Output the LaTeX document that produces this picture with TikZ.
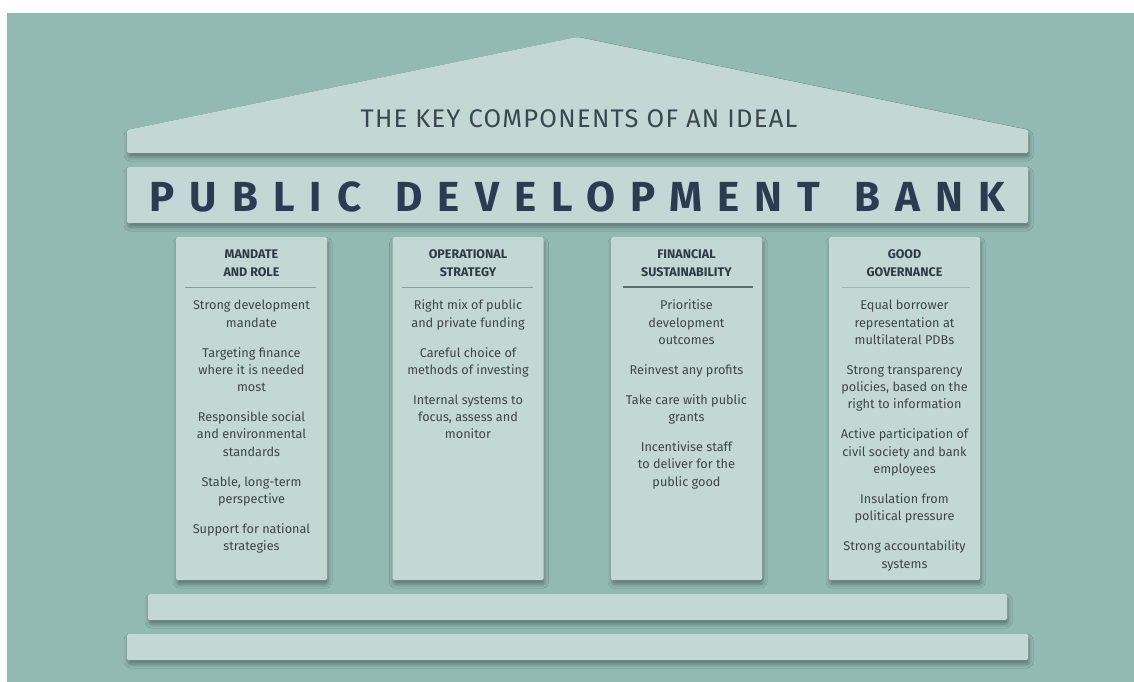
\documentclass[tikz,border=0pt]{standalone}
\usepackage{fontspec}
\setmainfont{Fira Sans}
\usetikzlibrary{shadows.blur}

\definecolor{wall}{HTML}{93B9B3}
\definecolor{stone}{HTML}{C3D8D5}
\definecolor{ink}{HTML}{3C4547}
\definecolor{headink}{HTML}{2E3A44}
\definecolor{navy}{HTML}{2B3C52}
\definecolor{titleink}{HTML}{3A4650}
\definecolor{rulegray}{HTML}{8A9B9B}
\definecolor{ruledark}{HTML}{5F6D6F}

\tikzset{
  stoneshadow/.style={blur shadow={shadow xshift=1pt, shadow yshift=-4pt,
      shadow blur radius=4pt, shadow opacity=35}},
  stoneblock/.style={fill=stone, draw=none, rounded corners=1.5pt, inner sep=0pt,
      stoneshadow},
  colhead/.style={font=\fontsize{12.5}{18}\selectfont\bfseries, text=headink,
      align=center, anchor=north, inner sep=0pt},
  colbody/.style={font=\fontsize{12.7}{17.3}\selectfont, text=ink,
      align=center, anchor=north, inner sep=0pt},
  headrule/.style={draw=rulegray, line width=0.8pt},
}

\begin{document}
\begin{tikzpicture}[x=1pt,y=-1pt]
\useasboundingbox (0,0) rectangle (1134,682);
\fill[white] (0,0) rectangle (1134,682);
\fill[wall] (7,13) rectangle (1134,682);

% pediment
\path[fill=stone, rounded corners=1.5pt, stoneshadow]
  (127,153) -- (127,130) -- (577,37) -- (1028,130) -- (1028,153) -- cycle;
\node[font=\fontsize{25.5}{30}\selectfont\addfontfeature{LetterSpace=5}, text=titleink,
      anchor=base, inner sep=0pt]
  (subtitle) at (579,128) {THE KEY COMPONENTS OF AN IDEAL};

% entablature
\node[stoneblock, minimum width=901, minimum height=56] (band) at (577.5,195) {};
\node[font=\fontsize{42}{48}\selectfont\bfseries\addfontfeature{LetterSpace=36},
      text=navy, anchor=base, inner sep=0pt]
  (title) at (577,211) {PUBLIC\hspace{9pt} DEVELOPMENT\hspace{9pt} BANK};

% columns
\node[stoneblock, minimum width=151, minimum height=343, anchor=north] (col1) at (251.5,237) {};
\node[stoneblock, minimum width=151, minimum height=343, anchor=north] (col2) at (468,237) {};
\node[stoneblock, minimum width=151, minimum height=343, anchor=north] (col3) at (686.5,237) {};
\node[stoneblock, minimum width=151, minimum height=343, anchor=north] (col4) at (904.5,237) {};

% base steps
\node[stoneblock, minimum width=859, minimum height=26] (step1) at (577.5,607) {};
\node[stoneblock, minimum width=901, minimum height=26] (step2) at (577.5,647) {};

% column headings
\node[colhead] (h1) at (251.5,245.7) {\strut MANDATE\\AND ROLE};
\node[colhead] (h2) at (468,245.7) {\strut OPERATIONAL\\STRATEGY};
\node[colhead] (h3) at (686.5,245.7) {\strut FINANCIAL\\SUSTAINABILITY};
\node[colhead] (h4) at (904.5,245.7) {\strut GOOD\\GOVERNANCE};

% heading rules
\coordinate (r1a) at (185,287);   \coordinate (r1b) at (316,287);
\coordinate (r2a) at (402,287);   \coordinate (r2b) at (533,287);
\coordinate (r3a) at (623,287);   \coordinate (r3b) at (753,287);
\coordinate (r4a) at (842,287);   \coordinate (r4b) at (970,287);
\draw[headrule] (r1a) -- (r1b);
\draw[headrule] (r2a) -- (r2b);
\draw[headrule, draw=ruledark, line width=1.4pt] (r3a) -- (r3b);
\draw[headrule, draw=rulegray!60!stone] (r4a) -- (r4b);

% column texts
\node[colbody] (b1) at (251.5,297.4) {\strut Strong development\\mandate\\[12.7pt]
  Targeting finance\\where it is needed\\most\\[12.7pt]
  Responsible social\\and environmental\\standards\\[12.7pt]
  Stable, long-term\\perspective\\[12.7pt]
  Support for national\\strategies};
\node[colbody] (b2) at (468,297.4) {\strut Right mix of public\\and private funding\\[12.7pt]
  Careful choice of\\methods of investing\\[12.7pt]
  Internal systems to\\focus, assess and\\monitor};
\node[colbody] (b3) at (686.5,297.4) {\strut Prioritise\\development\\outcomes\\[12.7pt]
  Reinvest any profits\\[12.7pt]
  Take care with public\\grants\\[12.7pt]
  Incentivise staff\\to deliver for the\\public good};
\node[colbody] (b4) at (904.5,297.4) {\strut Equal borrower\\representation at\\multilateral PDBs\\[12.7pt]
  Strong transparency\\policies, based on the\\right to information\\[12.7pt]
  Active participation of\\civil society and bank\\employees\\[12.7pt]
  Insulation from\\political pressure\\[12.7pt]
  Strong accountability\\systems};
\end{tikzpicture}
\end{document}
